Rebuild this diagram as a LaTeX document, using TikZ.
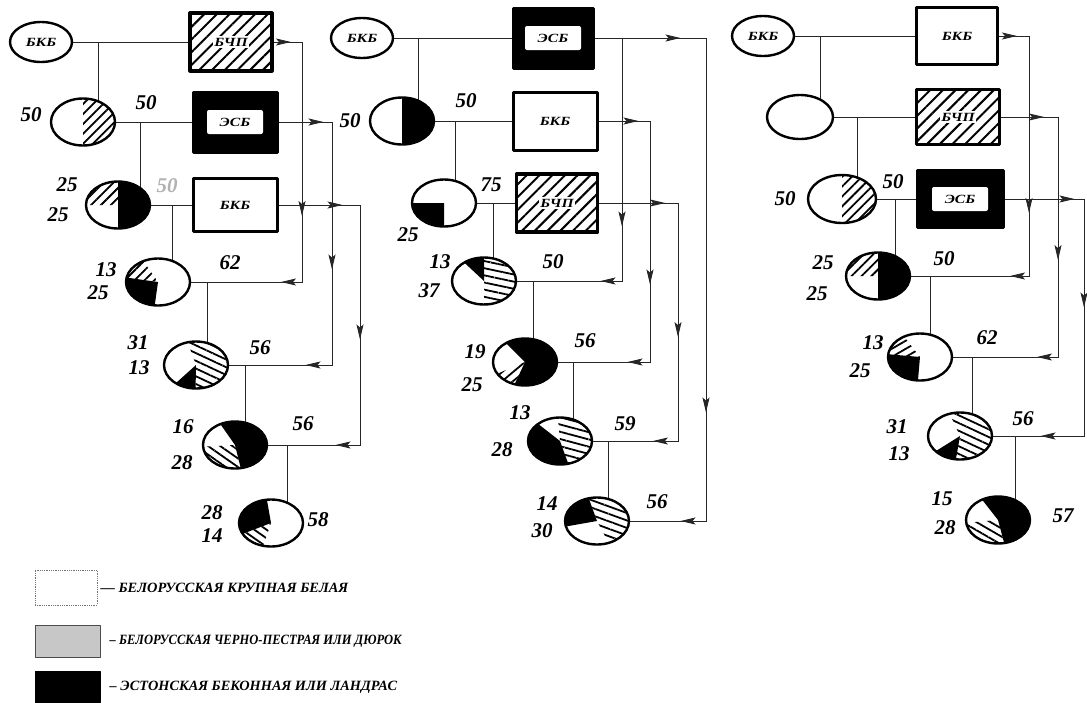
\documentclass[tikz,border=0pt]{standalone}
\usepackage{fontspec}
\setmainfont{Liberation Serif}
\usetikzlibrary{patterns.meta,shapes.geometric,decorations.markings,arrows.meta}
\pgfdeclarelayer{bg}
\pgfsetlayers{bg,main}
\newcommand\boxfont{\bfseries\itshape\fontsize{12.5}{12.5}\selectfont}
\newcommand\numfont{\bfseries\itshape\fontsize{21}{21}\selectfont}
\newcommand\legfont{\bfseries\itshape\fontsize{13.5}{14}\selectfont}
\newcommand\bx[1]{\scalebox{1.25}[1]{#1}}
\newcommand\slice[3]{\path[#3] (path picture bounding box.center) -- ++(#1:60) arc[start angle=#1,end angle=#2,radius=60] -- cycle;}
\tikzset{
  ovalnode/.style={ellipse, draw, line width=2.4pt, minimum width=62pt, minimum height=40pt, inner sep=0, font=\boxfont},
  pie/.style={ellipse, draw, fill=white, line width=2.4pt, minimum width=64pt, minimum height=47pt, inner sep=0},
  wbox/.style={rectangle, draw, line width=3pt, fill=white, minimum width=82pt, minimum height=56pt, font=\boxfont},
  hbox/.style={rectangle, draw, line width=3.2pt, minimum width=82pt, minimum height=56pt, pattern={Lines[angle=45,distance=9pt,line width=2pt]}},
  ebox/.style={rectangle, draw, line width=3pt, fill=black, minimum width=84pt, minimum height=60pt},
  innerw/.style={fill=white, rounded corners=2pt, minimum width=56pt, minimum height=24pt, inner sep=0, font=\boxfont},
  tlab/.style={fill=white, inner sep=1.5pt, font=\boxfont},
  num/.style={font=\numfont, inner sep=0},
  leg/.style={font=\legfont, inner sep=0, anchor=west},
  ln/.style={line width=1pt, draw=black!85},
  ht/.style={pattern={Lines[angle=#1,distance=7pt,line width=1.8pt]}},
  bk/.style={fill=black},
  mk/.style={postaction={decorate,decoration={markings,mark=at position #1 with {\arrow{Stealth[length=15pt,width=7pt,inset=3pt]}}}}}
}
\begin{document}
\begin{tikzpicture}[x=1pt,y=1pt,line join=round]
\useasboundingbox (0,0) rectangle (1087,-702);

% ---------------- Scheme 1 ----------------
\node[ovalnode] (e1) at (41,-42) {\bx{БКБ}};
\node[hbox, minimum width=82pt, minimum height=58pt] (b1) at (231,-42) {};
\node[tlab] at (b1) {\bx{БЧП}};
\node[pie, path picture={\slice{-90}{90}{ht=45}}] (c2) at (83,-122) {};
\node[ebox] (b2) at (235,-122) {};
\node[innerw] at (b2) {\bx{ЭСБ}};
\node[pie, path picture={\slice{90}{180}{ht=45}\slice{-90}{90}{bk}}] (c3) at (118,-205) {};
\node[wbox, minimum width=84pt, minimum height=53pt] (b3) at (235,-205) {\bx{БКБ}};
\node[pie, path picture={\slice{125}{172}{ht=45}\slice{172}{262}{bk}}] (c4) at (158,-282) {};
\node[pie, path picture={\slice{222}{269}{bk}\slice{-91}{110}{ht=-25}}] (c5) at (196,-365) {};
\node[pie, path picture={\slice{183}{284}{ht=-35}\slice{-76}{125}{bk}}] (c6) at (235,-445) {};
\node[pie, path picture={\slice{100}{201}{bk}\slice{201}{251}{ht=-35}}] (c7) at (271,-523) {};

\coordinate (j1) at (98,-42);
\coordinate (j2) at (140,-122);
\coordinate (j3) at (172,-205);
\coordinate (j4) at (207,-282);
\coordinate (j5) at (245,-365);
\coordinate (j6) at (287,-445);
\coordinate (t1) at (302,-282);
\coordinate (t2) at (332,-365);
\coordinate (t3) at (360,-445);

% ---------------- Scheme 2 ----------------
\node[ovalnode] (e2) at (362,-38) {\bx{БКБ}};
\node[ebox, minimum width=80pt] (b4) at (553,-38) {};
\node[innerw] at (b4) {\bx{ЭСБ}};
\node[pie, path picture={\slice{-90}{90}{bk}}] (c8) at (402,-121) {};
\node[wbox, minimum width=84pt, minimum height=58pt] (b5) at (555,-121) {\bx{БКБ}};
\node[pie, path picture={\slice{180}{270}{bk}}] (c9) at (444,-203) {};
\node[hbox, minimum width=81pt, minimum height=58pt] (b6) at (557,-203) {};
\node[tlab] at (b6) {\bx{БЧП}};
\node[pie, path picture={\slice{90}{137}{bk}\slice{-90}{90}{ht=-12}}] (c10) at (484,-281) {};
\node[pie, path picture={\slice{245}{495}{bk}\slice{203}{245}{ht=40}}] (c11) at (525,-362) {};
\node[pie, path picture={\slice{142}{290}{bk}\slice{290}{455}{ht=-15}}] (c12) at (560,-441) {};
\node[pie, path picture={\slice{110}{190}{bk}\slice{298}{470}{ht=-20}}] (c13) at (597,-521) {};

\coordinate (j7) at (418,-38);
\coordinate (j8) at (455,-121);
\coordinate (j9) at (493,-203);
\coordinate (j10) at (533,-281);
\coordinate (j11) at (573,-362);
\coordinate (j12) at (608,-441);
\coordinate (t4) at (622,-281);
\coordinate (t5) at (706,-521);
\coordinate (t6) at (650,-362);
\coordinate (t7) at (678,-441);

% ---------------- Scheme 3 ----------------
\node[ovalnode] (e3) at (763,-36) {\bx{БКБ}};
\node[wbox, minimum width=81pt, minimum height=57pt] (b7) at (957,-36) {\bx{БКБ}};
\node[pie, minimum width=66pt, minimum height=44pt] (c14) at (800,-117) {};
\node[hbox, minimum width=83pt, minimum height=55pt] (b8) at (958,-117) {};
\node[tlab] at (b8) {\bx{БЧП}};
\node[pie, minimum width=68pt, minimum height=48pt, path picture={\slice{-90}{90}{ht=45}}] (c15) at (842,-199) {};
\node[ebox, minimum width=86pt, minimum height=57pt] (b9) at (960,-199) {};
\node[innerw] at (b9) {\bx{ЭСБ}};
\node[pie, path picture={\slice{90}{180}{ht=45}\slice{-90}{90}{bk}}] (c16) at (878,-276) {};
\node[pie, path picture={\slice{128}{175}{ht=30}\slice{175}{265}{bk}}] (c17) at (920,-357) {};
\node[pie, path picture={\slice{212}{260}{bk}\slice{260}{475}{ht=-25}}] (c18) at (960,-436) {};
\node[pie, path picture={\slice{185}{285}{ht=-30}\slice{285}{488}{bk}}] (c19) at (998,-520) {};

\coordinate (j13) at (820,-36);
\coordinate (j14) at (857,-117);
\coordinate (j15) at (895,-199);
\coordinate (j16) at (930,-276);
\coordinate (j17) at (972,-357);
\coordinate (j18) at (1015,-436);
\coordinate (t8) at (1029,-276);
\coordinate (t9) at (1058,-357);
\coordinate (t10) at (1084,-436);

% ---------------- connectors ----------------
\begin{pgfonlayer}{bg}
\draw[ln] (e1.east) -- (b1.west);
\draw[ln] (j1) -- (j1 |- c2);
\draw[ln] (c2.east) -- (b2.west);
\draw[ln] (j2) -- (j2 |- c3);
\draw[ln] (c3.east) -- (b3.west);
\draw[ln] (j3) -- (j3 |- c4);
\draw[ln, mk=18pt, mk=203pt, mk=290pt] (b1.east) -| (t1) -- (c4.east);
\draw[ln] (j4) -- (j4 |- c5);
\draw[ln, mk=45pt, mk=201pt, mk=323pt] (b2.east) -| (t2) -- (c5.east);
\draw[ln] (j5) -- (j5 |- c6);
\draw[ln, mk=64pt, mk=216pt, mk=346pt] (b3.east) -| (t3) -- (c6.east);
\draw[ln] (j6) -- (j6 |- c7);

\draw[ln] (e2.east) -- (b4.west);
\draw[ln] (j7) -- (j7 |- c8);
\draw[ln] (c8.east) -- (b5.west);
\draw[ln] (j8) -- (j8 |- c9);
\draw[ln] (c9.east) -- (b6.west);
\draw[ln] (j9) -- (j9 |- c10);
\draw[ln, mk=216pt, mk=292pt] (b4.east) -| (t4) -- (c10.east);
\draw[ln, mk=86pt, mk=486pt, mk=620pt] (b4.east) -| (t5) -- (c13.east);
\draw[ln] (j10) -- (j10 |- c11);
\draw[ln, mk=40pt, mk=215pt, mk=315pt] (b5.east) -| (t6) -- (c11.east);
\draw[ln] (j11) -- (j11 |- c12);
\draw[ln, mk=66pt, mk=213pt, mk=342pt] (b6.east) -| (t7) -- (c12.east);
\draw[ln] (j12) -- (j12 |- c13);

\draw[ln] (e3.east) -- (b7.west);
\draw[ln] (j13) -- (j13 |- c14);
\draw[ln] (c14.east) -- (b8.west);
\draw[ln] (j14) -- (j14 |- c15);
\draw[ln] (c15.east) -- (b9.west);
\draw[ln] (j15) -- (j15 |- c16);
\draw[ln, mk=18pt, mk=207pt, mk=289pt] (b7.east) -| (t8) -- (c16.east);
\draw[ln] (j16) -- (j16 |- c17);
\draw[ln, mk=43pt, mk=200pt, mk=318pt] (b8.east) -| (t9) -- (c17.east);
\draw[ln] (j17) -- (j17 |- c18);
\draw[ln, mk=70pt, mk=188pt, mk=360pt] (b9.east) -| (t10) -- (c18.east);
\draw[ln] (j18) -- (j18 |- c19);
\end{pgfonlayer}

% ---------------- numbers ----------------
\node[num] at (31,-115) {50};
\node[num] at (146,-103) {50};
\node[num] at (67,-185) {25};
\node[num] at (58,-215) {25};
\node[num, text=black!30] at (167,-186) {50};
\node[num] at (106,-270) {13};
\node[num] at (98,-293) {25};
\node[num] at (230,-263) {62};
\node[num] at (138,-343) {31};
\node[num] at (139,-368) {13};
\node[num] at (260,-348) {56};
\node[num] at (183,-427) {16};
\node[num] at (182,-463) {28};
\node[num] at (303,-424) {56};
\node[num] at (212,-513) {28};
\node[num] at (212,-536) {14};
\node[num] at (318,-520) {58};

\node[num] at (350,-121) {50};
\node[num] at (466,-101) {50};
\node[num] at (491,-185) {75};
\node[num] at (408,-235) {25};
\node[num] at (440,-262) {13};
\node[num] at (429,-291) {37};
\node[num] at (553,-262) {50};
\node[num] at (475,-352) {19};
\node[num] at (472,-385) {25};
\node[num] at (585,-341) {56};
\node[num] at (520,-413) {13};
\node[num] at (502,-450) {28};
\node[num] at (625,-424) {59};
\node[num] at (547,-504) {14};
\node[num] at (542,-531) {30};
\node[num] at (657,-502) {56};

\node[num] at (785,-199) {50};
\node[num] at (893,-182) {50};
\node[num] at (823,-263) {25};
\node[num] at (817,-294) {25};
\node[num] at (944,-259) {50};
\node[num] at (873,-343) {13};
\node[num] at (860,-371) {25};
\node[num] at (987,-338) {62};
\node[num] at (897,-427) {31};
\node[num] at (899,-454) {13};
\node[num] at (1023,-419) {56};
\node[num] at (942,-499) {15};
\node[num] at (945,-528) {28};
\node[num] at (1063,-516) {57};

% ---------------- legend ----------------
\node[draw=black!55, densely dotted, line width=0.8pt, minimum width=62pt, minimum height=35pt, inner sep=0] (l1) at (66,-587.5) {};
\node[leg] (lt1) at ([xshift=3pt]l1.east) {\scalebox{1.065}[1.05]{— БЕЛОРУССКАЯ КРУПНАЯ БЕЛАЯ}};
\node[draw=black!70, fill=black!22, line width=1pt, minimum width=65pt, minimum height=32pt, inner sep=0] (l2) at (67.5,-641) {};
\node[leg] (lt2) at ([xshift=9pt]l2.east) {\scalebox{0.93}[1.05]{– БЕЛОРУССКАЯ ЧЕРНО-ПЕСТРАЯ ИЛИ ДЮРОК}};
\node[draw, fill=black, line width=1pt, minimum width=65pt, minimum height=31pt, inner sep=0] (l3) at (67.5,-687) {};
\node[leg] (lt3) at ([xshift=9pt]l3.east) {\scalebox{1.06}[1.05]{– ЭСТОНСКАЯ БЕКОННАЯ ИЛИ ЛАНДРАС}};
\end{tikzpicture}
\end{document}
